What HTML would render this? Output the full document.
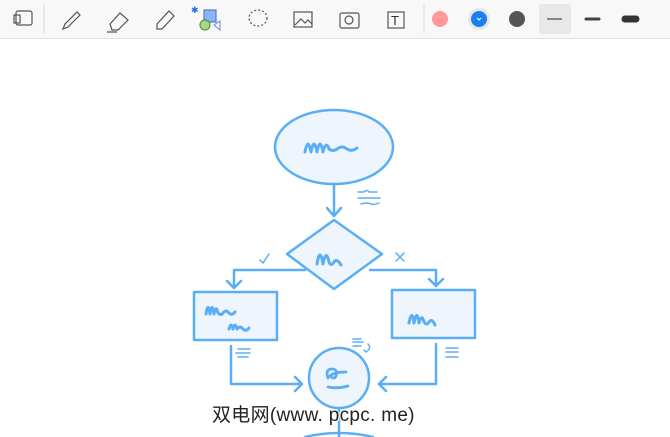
<!DOCTYPE html>
<html><head><style>
body{margin:0;width:670px;height:437px;overflow:hidden;background:#fff;font-family:"Liberation Sans","Noto Sans CJK SC",sans-serif;position:relative}
.tb{position:absolute;left:0;top:0;width:670px;height:38px;background:#f8f8f8;border-bottom:1px solid #e2e2e2}
.wm{position:absolute;left:212px;top:400px;font-size:19px;letter-spacing:0.3px;color:#222;text-shadow:0 0 2px #fff,0 0 2px #fff,1px 1px 0 #fff,-1px -1px 0 #fff}
</style></head><body>
<div class="tb">
<svg width="670" height="38" fill="none" stroke="#555" stroke-width="1.2">
<rect x="16" y="11" width="16" height="14" rx="2"/><rect x="14" y="15" width="6" height="8"/>
<line x1="44" y1="5" x2="44" y2="33" stroke="#ddd"/>
<path d="M63 29 L65 24 L77 12 L80 15 L68 27 Z"/>
<path d="M110 24 L120 13 L128 20 L118 30 L112 30 Z M107 32 H117"/>
<path d="M157 29 L157 24 L169 11 L174 16 L162 29 Z"/>
<rect x="204" y="10" width="12" height="12" fill="#8ab4f8" stroke="#4a7fd0"/>
<circle cx="205" cy="25" r="5" fill="#a6d78b" stroke="#5a9a40"/>
<path d="M220 21 L214 25 L220 30 Z" stroke="#7aa0d8"/>
<text x="191" y="13" font-size="9" fill="#1a73e8" stroke="none">✱</text>
<ellipse cx="258" cy="18" rx="9" ry="8" stroke-dasharray="2 2"/>
<rect x="294" y="12" width="18" height="15"/><path d="M295 25 L301 19 L305 23 L308 20 L312 24"/>
<rect x="340" y="13" width="19" height="15" rx="2"/><circle cx="349" cy="20" r="4"/>
<rect x="388" y="12" width="16" height="16"/><text x="391" y="25" font-size="13" fill="#333" stroke="none">T</text>
<line x1="424" y1="5" x2="424" y2="33" stroke="#ddd"/>
<circle cx="440" cy="19" r="8" fill="#f99" stroke="none"/>
<circle cx="479" cy="19" r="11" fill="#e6e6e6" stroke="none"/>
<circle cx="479" cy="19" r="8" fill="#1a80f0" stroke="none"/>
<path d="M477 18 l2 2 l2-2" stroke="#fff" stroke-width="1"/>
<circle cx="517" cy="19" r="8" fill="#555" stroke="none"/>
<rect x="539" y="4" width="32" height="30" rx="3" fill="#e8e8e8" stroke="none"/>
<line x1="547" y1="19" x2="562" y2="19" stroke="#666" stroke-width="1.5"/>
<line x1="586" y1="19" x2="599" y2="19" stroke="#444" stroke-width="3" stroke-linecap="round"/>
<line x1="625" y1="19" x2="636" y2="19" stroke="#333" stroke-width="7" stroke-linecap="round"/>
</svg></div>
<svg width="670" height="437" style="position:absolute;left:0;top:0" fill="none" stroke="#5aaef5" stroke-width="2.5" stroke-linejoin="round" stroke-linecap="round">
<ellipse cx="334" cy="147" rx="59" ry="37" fill="#eef5fd"/>
<path d="M305 152 q3-16 6 0 q3-16 6 0 q3-16 6 0 q3-12 6-3 q4 3 8 0 q5-4 10 0 q5 3 10-1" stroke-width="3"/>
<path d="M334 185 V216 M327 208 L334 216 L341 208"/>
<path d="M334 220 L382 254 L334 289 L287 254 Z" fill="#eef5fd"/>
<path d="M317 264 q3-18 6 0 q3-16 6-2 q2 5 5 0 q3-4 7 3" stroke-width="3"/>
<path d="M305 270 H234 V288 M227 281 L234 288 L241 281"/>
<path d="M370 270 H436 V286 M429 279 L436 286 L443 279"/>
<rect x="194" y="292" width="83" height="48" fill="#eef5fd"/>
<path d="M206 314 q2-13 4 0 q2-13 4 0 q2-10 4-1 q3 3 5 0 q3-4 6 0 q3 3 6-1 M229 329 q2-8 4 0 q2-8 4 0 q3-4 6 0 q3 3 6-1" stroke-width="3"/>
<rect x="392" y="290" width="83" height="48" fill="#eef5fd"/>
<path d="M409 323 q3-15 5 0 q3-15 5 0 q3-10 5-1 q3 4 5 0 q3-4 6 3" stroke-width="3"/>
<circle cx="339" cy="378" r="30" fill="#eef5fd"/>
<path d="M328 378 q-3-9 4-9 q6 0 4 7 q-2 4-6 0 q4-4 16-4 M328 387 q10 2 20-1" stroke-width="2.8"/>
<path d="M231 346 V384 H302 M295 377 L302 384 L295 391"/>
<path d="M436 344 V384 H379 M386 377 L379 384 L386 391"/>
<path d="M339 408 V437"/>
<path d="M305 437 q34-8 68 0"/>
<g stroke-width="1.5">
<path d="M358 192 h6 q3-3 5 0 h8 M358 198 h22 M361 204 q6-2 10 0 q4 1 8-1"/>
<path d="M260 260 l3 3 l6-9"/><path d="M396 253 l8 8 M404 253 l-8 8"/>
<path d="M238 349 h12 M236 353 h14 M238 357 h10"/>
<path d="M446 348 h12 M446 352 h12 M446 357 h12"/>
<path d="M353 339 h8 M353 342 h10 M353 346 h8 M368 344 q4 4-2 8 l-2 -2"/>
</g>
</svg>
<div class="wm">双电网(www. pcpc. me)</div>
</body></html>
